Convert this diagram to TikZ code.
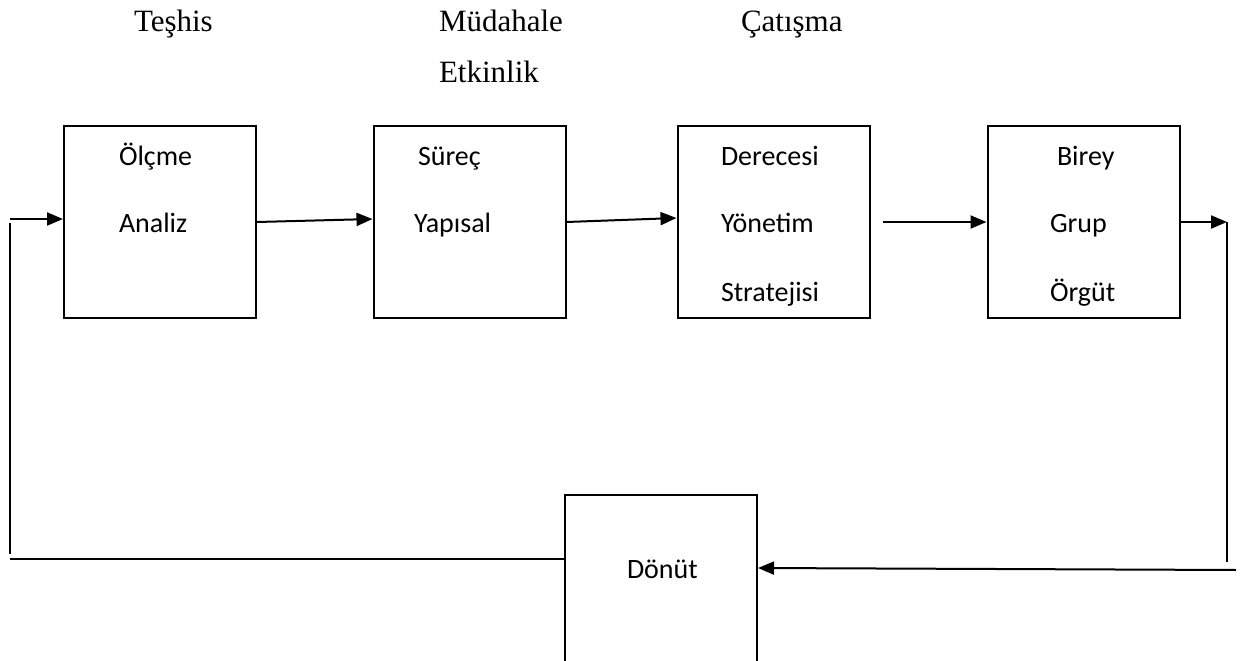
\documentclass[tikz,border=0pt]{standalone}
\usepackage{fontspec}
\setmainfont{Liberation Serif}
\newfontfamily\boxfont{Carlito}
\usetikzlibrary{arrows.meta}
\begin{document}
\begin{tikzpicture}[x=1pt,y=-1pt,line width=2pt,
  box/.style={draw,line width=2pt,minimum width=192pt,minimum height=192pt,inner sep=0pt},
  lbl/.style={font=\fontsize{31}{36}\selectfont,anchor=base west,inner sep=0pt},
  btxt/.style={font=\boxfont\fontsize{28}{33}\selectfont,anchor=base west,inner sep=0pt},
  arr/.style={-{Triangle[length=16pt,width=13pt]}}]
\clip (0,0) rectangle (1242,661);
\fill[white] (0,0) rectangle (1242,661);
% top labels
\node[lbl] (l1) at (133,32) {Teşhis};
\node[lbl] (l2) at (438,32) {Müdahale};
\node[lbl] (l3) at (438,82) {Etkinlik};
\node[lbl] (l4) at (740,32) {Çatışma};
% boxes
\node[box] (b1) at (160,222) {};
\node[box] (b2) at (469.5,222) {};
\node[box] (b3) at (773.5,222) {};
\node[box] (b4) at (1083.5,222) {};
\node[box,minimum height=205pt] (d) at (661,597.5) {};
% box texts
\node[btxt] (t11) at (118,165) {Ölçme};
\node[btxt] (t12) at (118,232) {Analiz};
\node[btxt] (t21) at (417,165) {Süreç};
\node[btxt] (t22) at (413,232) {Yapısal};
\node[btxt] (t31) at (720,165) {Derecesi};
\node[btxt] (t32) at (720,232) {Yönetim};
\node[btxt] (t33) at (720,301) {Stratejisi};
\node[btxt] (t41) at (1056,165) {Birey};
\node[btxt] (t42) at (1049,232) {Grup};
\node[btxt] (t43) at (1049,301) {Örgüt};
\node[btxt] (td) at (626,578) {Dönüt};
% free ends
\coordinate (lt) at (10,219);
\coordinate (lv) at (10,223);
\coordinate (lb) at (10,554);
\coordinate (bl) at (10,559);
\coordinate (rt) at (1227,222);
\coordinate (rb) at (1227,562);
\coordinate (br) at (1236,570);
% connectors
\draw[arr] (lt) -- ([yshift=3pt]b1.west);
\draw (lv) -- (lb);
\draw (bl) -- (d.west |- bl);
\draw[arr] (b1.east) -- ([yshift=3pt]b2.west);
\draw[arr] (b2.east) -- ([yshift=4pt]b3.west);
\draw[arr] ([xshift=12pt]b3.east) -- (b4.west);
\draw[arr] (b4.east) -- (rt);
\draw (rt) -- (rb);
\draw[arr] (br) -- ([yshift=29.5pt]d.east);
\end{tikzpicture}
\end{document}
